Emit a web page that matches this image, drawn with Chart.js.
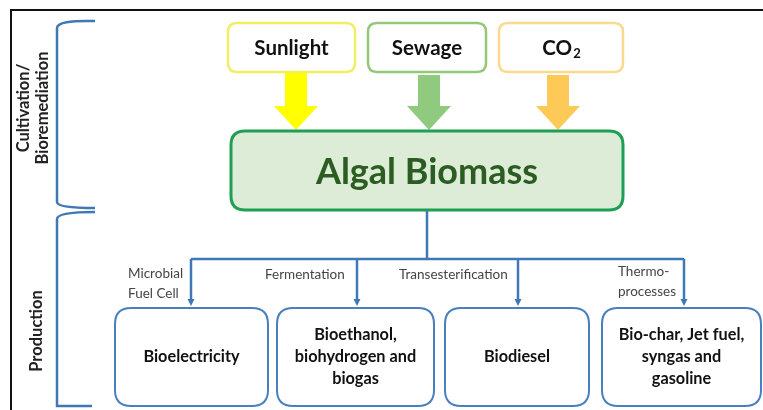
<!DOCTYPE html>
<html>
<head>
<meta charset="utf-8">
<script src="https://cdn.jsdelivr.net/npm/chart.js@4/dist/chart.umd.min.js"></script>
<style>
  body { margin: 0; background: #fff; }
  #wrap { width: 763px; height: 410px; }
</style>
</head>
<body>
<div id="wrap"><canvas id="diagram" width="763" height="410"></canvas></div>
<script>
// text content of the diagram
const phases = [['Cultivation/', 'Bioremediation'], ['Production']];
const inputs = ['Sunlight', 'Sewage', 'CO2'];
const biomass = 'Algal Biomass';
const processes = [['Microbial', 'Fuel Cell'], ['Fermentation'], ['Transesterification'], ['Thermo-', 'processes']];
const products = [['Bioelectricity'], ['Bioethanol,', 'biohydrogen and', 'biogas'], ['Biodiesel'], ['Bio-char, Jet fuel,', 'syngas and', 'gasoline']];

// layout (in scale units, same as the 763 x 410 page)
const inputBoxes = [[228, 355], [368, 486], [499, 623]];
const inputBorder = ['#f1ee62', '#93c879', '#fbd98e'];
const inputArrow = ['#ffff00', '#8fca7f', '#fdca58'];
const inputArrowX = [296, 429, 558];
const productBoxes = [[115, 268], [277, 434], [445, 589], [602, 761]];
const branchX = [191, 357, 518, 684];

const FONT = 'Lato, "Open Sans", sans-serif';

function rrect(ctx, x0, y0, x1, y1, r) {
  ctx.beginPath();
  ctx.moveTo(x0 + r, y0);
  ctx.lineTo(x1 - r, y0);
  ctx.quadraticCurveTo(x1, y0, x1, y0 + r);
  ctx.lineTo(x1, y1 - r);
  ctx.quadraticCurveTo(x1, y1, x1 - r, y1);
  ctx.lineTo(x0 + r, y1);
  ctx.quadraticCurveTo(x0, y1, x0, y1 - r);
  ctx.lineTo(x0, y0 + r);
  ctx.quadraticCurveTo(x0, y0, x0 + r, y0);
  ctx.closePath();
}

const diagramPlugin = {
  id: 'diagram',
  afterDraw(chart) {
    const ctx = chart.ctx;
    const X = v => chart.scales.x.getPixelForValue(v);
    const Y = v => chart.scales.y.getPixelForValue(v);
    ctx.save();

    // frame
    ctx.strokeStyle = '#111';
    ctx.lineWidth = 2;
    ctx.beginPath();
    ctx.moveTo(X(763), Y(10));
    ctx.lineTo(X(11), Y(10));
    ctx.lineTo(X(11), Y(410));
    ctx.stroke();

    // brackets
    ctx.strokeStyle = '#3f78b5';
    ctx.lineWidth = 2.5;
    ctx.beginPath();
    ctx.moveTo(X(95), Y(21));
    ctx.quadraticCurveTo(X(57), Y(20), X(57), Y(28));
    ctx.lineTo(X(57), Y(202));
    ctx.quadraticCurveTo(X(57), Y(208), X(95), Y(208));
    ctx.stroke();
    ctx.beginPath();
    ctx.moveTo(X(95), Y(212));
    ctx.quadraticCurveTo(X(57), Y(212), X(57), Y(219));
    ctx.lineTo(X(57), Y(406));
    ctx.lineTo(X(92), Y(406));
    ctx.stroke();

    // phase labels (rotated)
    ctx.fillStyle = '#222';
    ctx.textAlign = 'center';
    ctx.textBaseline = 'middle';
    ctx.font = 'bold 16.5px ' + FONT;
    [[[24, 43], 108], [[37], 331]].forEach(([xs, yc], i) => {
      phases[i].forEach((t, j) => {
        ctx.save();
        ctx.translate(X(xs[j]), Y(yc));
        ctx.rotate(-Math.PI / 2);
        ctx.fillText(t, 0, 0);
        ctx.restore();
      });
    });

    // input boxes
    inputs.forEach((t, i) => {
      const [a, b] = inputBoxes[i];
      rrect(ctx, X(a), Y(23), X(b), Y(72), 9);
      ctx.fillStyle = '#fff';
      ctx.fill();
      ctx.strokeStyle = inputBorder[i];
      ctx.lineWidth = 2.5;
      ctx.stroke();
      ctx.fillStyle = '#111';
      ctx.font = 'bold 20.5px ' + FONT;
      const cx = X((a + b) / 2), cy = Y(48);
      if (t === 'CO2') {
        const w1 = ctx.measureText('CO').width;
        ctx.font = 'bold 13px ' + FONT;
        const w2 = ctx.measureText('2').width;
        ctx.textAlign = 'left';
        ctx.font = 'bold 20.5px ' + FONT;
        ctx.fillText('CO', cx - (w1 + w2) / 2, cy);
        ctx.font = 'bold 13px ' + FONT;
        ctx.fillText('2', cx - (w1 + w2) / 2 + w1 + 1, cy + 6);
        ctx.textAlign = 'center';
      } else {
        ctx.fillText(t, cx, cy);
      }
      // arrow down into biomass
      const ax = inputArrowX[i];
      ctx.fillStyle = inputArrow[i];
      ctx.beginPath();
      ctx.moveTo(X(ax - 11), Y(i === 0 ? 73 : 75));
      ctx.lineTo(X(ax + 11), Y(i === 0 ? 73 : 75));
      ctx.lineTo(X(ax + 11), Y(106));
      ctx.lineTo(X(ax + 22), Y(106));
      ctx.lineTo(X(ax), Y(130));
      ctx.lineTo(X(ax - 22), Y(106));
      ctx.lineTo(X(ax - 11), Y(106));
      ctx.closePath();
      ctx.fill();
    });

    // biomass box
    rrect(ctx, X(231), Y(131), X(623), Y(210), 14);
    ctx.fillStyle = '#dcecd6';
    ctx.fill();
    ctx.strokeStyle = '#1f9e55';
    ctx.lineWidth = 3;
    ctx.stroke();
    ctx.fillStyle = '#2b5d22';
    ctx.font = 'bold 36px ' + FONT;
    ctx.fillText(biomass, X(427), Y(172));

    // branching connectors
    ctx.strokeStyle = '#3f78b5';
    ctx.fillStyle = '#3f78b5';
    ctx.lineWidth = 2.5;
    ctx.beginPath();
    ctx.moveTo(X(427), Y(211));
    ctx.lineTo(X(427), Y(259));
    ctx.moveTo(X(branchX[0]), Y(259));
    ctx.lineTo(X(branchX[3]), Y(259));
    ctx.stroke();
    branchX.forEach(bx => {
      ctx.beginPath();
      ctx.moveTo(X(bx), Y(259));
      ctx.lineTo(X(bx), Y(300));
      ctx.stroke();
      ctx.beginPath();
      ctx.moveTo(X(bx - 3.5), Y(299));
      ctx.lineTo(X(bx + 3.5), Y(299));
      ctx.lineTo(X(bx), Y(306));
      ctx.closePath();
      ctx.fill();
    });

    // process labels
    ctx.fillStyle = '#444';
    ctx.font = '13.5px ' + FONT;
    ctx.textAlign = 'left';
    const procPos = [[128, [274, 294]], [265, [275]], [399, [275]], [618, [272, 292]]];
    processes.forEach((lines, i) => {
      lines.forEach((t, j) => ctx.fillText(t, X(procPos[i][0]), Y(procPos[i][1][j])));
    });

    // product boxes
    ctx.textAlign = 'center';
    products.forEach((lines, i) => {
      const [a, b] = productBoxes[i];
      rrect(ctx, X(a), Y(308), X(b), Y(406), 16);
      ctx.fillStyle = '#fff';
      ctx.fill();
      ctx.strokeStyle = '#4a7fbd';
      ctx.lineWidth = 2;
      ctx.stroke();
      ctx.fillStyle = '#111';
      ctx.font = 'bold 16.3px ' + FONT;
      const lh = 22;
      const y0 = 357 - (lines.length - 1) * lh / 2;
      lines.forEach((t, j) => ctx.fillText(t, X((a + b) / 2), Y(y0 + j * lh)));
    });

    ctx.restore();
  }
};

new Chart(document.getElementById('diagram'), {
  type: 'scatter',
  data: { datasets: [{ data: [] }] },
  options: {
    responsive: false,
    animation: false,
    layout: { padding: 0 },
    plugins: { legend: { display: false }, tooltip: { enabled: false } },
    scales: {
      x: { display: false, min: 0, max: 763 },
      y: { display: false, min: 0, max: 410, reverse: true }
    }
  },
  plugins: [diagramPlugin]
});
</script>
</body>
</html>
